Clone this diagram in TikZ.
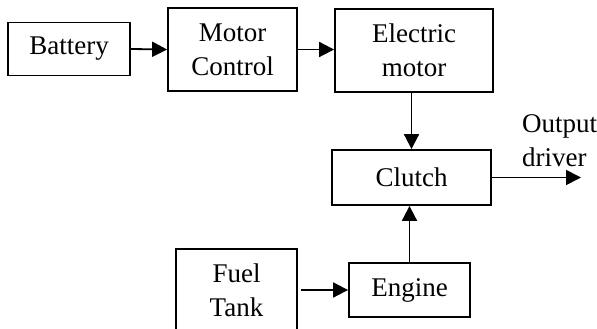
\documentclass[tikz,border=0pt]{standalone}
\usepackage{fontspec}
\setmainfont{Liberation Serif}
\usetikzlibrary{arrows.meta}
\begin{document}
\begin{tikzpicture}[x=1pt,y=-1pt,
 blk/.style={draw,line width=1.8pt,inner sep=0pt,align=center,font=\fontsize{27}{34}\selectfont},
 lbl/.style={inner sep=0pt,align=left,font=\fontsize{27}{34}\selectfont},
 arr/.style={line width=1.8pt,-{Triangle[length=15pt,width=15pt]}}]
\useasboundingbox (0,0) rectangle (597,329);
\node[blk,minimum width=122,minimum height=53] (bat) at (69,49) {Battery};
\node[blk,minimum width=129,minimum height=83] (mc) at (232.5,49.5) {Motor\\Control};
\node[blk,minimum width=158,minimum height=83] (em) at (414,50.5) {Electric\\motor};
\node[blk,minimum width=159,minimum height=55] (cl) at (411.5,177.5) {Clutch};
\node[blk,minimum width=121,minimum height=54] (eng) at (409.5,290) {Engine};
\node[blk,minimum width=121,minimum height=82] (fuel) at (236.5,290) {Fuel\\Tank};
\node[lbl,anchor=west] (outlbl) at (522,141) {Output\\driver};
\coordinate (outend) at (581,177.5);
\draw[arr] (bat.east) -- (mc.west);
\draw[arr] (mc.east) -- (em.west |- mc.east);
\draw[arr] (cl.north |- em.south) -- (cl.north);
\draw[arr] (eng.north) -- (eng.north |- cl.south);
\draw[arr,shorten <=3pt] (fuel.east) -- (eng.west);
\draw[arr] (cl.east) -- (outend);
\end{tikzpicture}
\end{document}
